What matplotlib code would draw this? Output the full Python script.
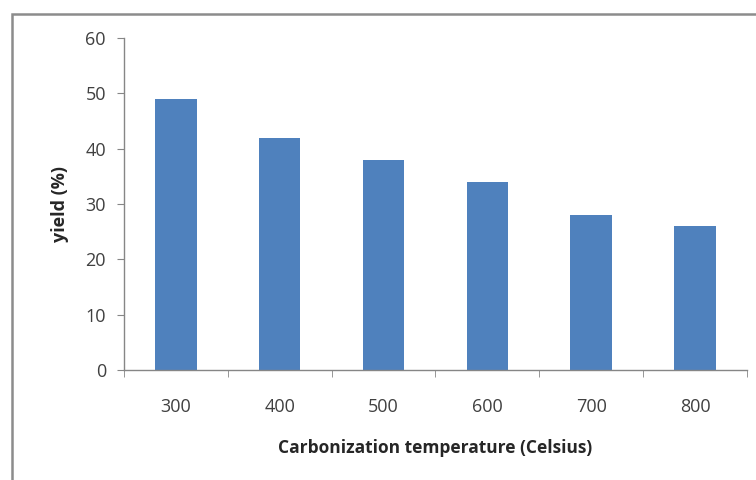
import matplotlib
matplotlib.use("Agg")
import matplotlib.pyplot as plt
from matplotlib.patches import Rectangle
import numpy as np

# Carbonization temperatures and yields
temperatures = ['300', '400', '500', '600', '700', '800']
yield_pct = [49, 42, 38, 34, 28, 26]

plt.rcParams['font.family'] = ['Open Sans', 'DejaVu Sans']

fig = plt.figure(figsize=(7.56, 4.8), dpi=100)
ax = fig.add_axes([0.164, 0.229, 0.824, 0.692])

x = np.arange(len(temperatures))
ax.bar(x, yield_pct, width=0.4, color='#4f81bd')

ax.set_xlim(-0.5, len(temperatures) - 0.5)
ax.set_ylim(0, 60)
ax.set_yticks(range(0, 61, 10))
ax.set_xticks(x)
ax.set_xticklabels(temperatures)
# tick marks between categories, like Excel
ax.set_xticks(np.arange(-0.5, len(temperatures), 1), minor=True)
ax.tick_params(axis='x', which='major', length=0, pad=20, labelsize=13, labelcolor='#404040')
ax.tick_params(axis='x', which='minor', length=5, color='#868686', direction='out')
ax.tick_params(axis='y', length=5, color='#868686', pad=8, labelsize=13, labelcolor='#404040')

for side in ['top', 'right']:
    ax.spines[side].set_visible(False)
for side in ['left', 'bottom']:
    ax.spines[side].set_color('#868686')
    ax.spines[side].set_linewidth(1)

ax.set_xlabel('Carbonization temperature (Celsius)', fontsize=12.5, fontweight='bold', color='#262626', labelpad=17)
ax.set_ylabel('yield (%)', fontsize=13, fontweight='bold', color='#262626', labelpad=12)

# outer chart border (cut off at right and bottom in the original)
fig.patches.append(Rectangle((12 / 756, -0.1), 1.1, 1 - 14 / 480 + 0.1, transform=fig.transFigure,
                             fill=False, edgecolor='#8c8c8c', linewidth=1.8))

fig.savefig('out.png', dpi=100)
